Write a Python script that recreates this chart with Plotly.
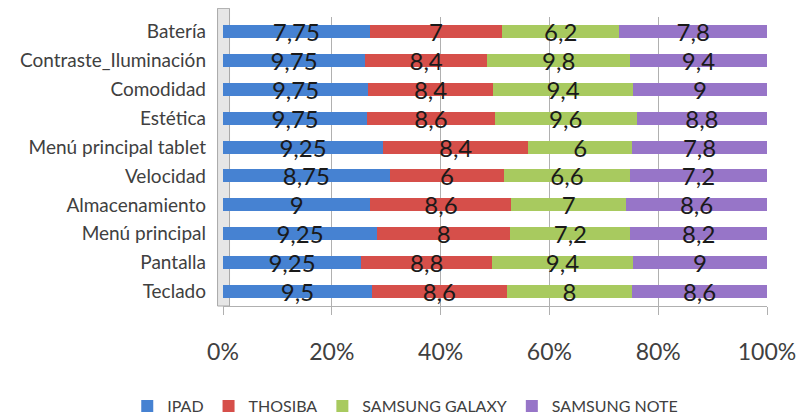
import plotly.graph_objects as go

categories = ["Teclado", "Pantalla", "Menú principal", "Almacenamiento", "Velocidad",
              "Menú principal tablet", "Estética", "Comodidad", "Contraste_Iluminación", "Batería"]
ipad = [9.5, 9.25, 9.25, 9, 8.75, 9.25, 9.75, 9.75, 9.75, 7.75]
thosiba = [8.6, 8.8, 8, 8.6, 6, 8.4, 8.6, 8.4, 8.4, 7]
galaxy = [8, 9.4, 7.2, 7, 6.6, 6, 9.6, 9.4, 9.8, 6.2]
note = [8.6, 9, 8.2, 8.6, 7.2, 7.8, 8.8, 9, 9.4, 7.8]
series_names = ["IPAD", "THOSIBA", "SAMSUNG GALAXY", "SAMSUNG NOTE"]
colors = ["#4682D2", "#D64F4A", "#A8CA5F", "#9775C8"]
tick_vals = [0, 20, 40, 60, 80, 100]
tick_text = ["0%", "20%", "40%", "60%", "80%", "100%"]

FONT = "Lato"
fig = go.Figure()
for name, vals, col in zip(series_names, [ipad, thosiba, galaxy, note], colors):
    fig.add_trace(go.Bar(
        y=categories, x=vals, name=name, orientation="h",
        marker=dict(color=col, line=dict(width=0)),
        text=[str(v).replace(".", ",") if v != int(v) else str(int(v)) for v in vals],
        textposition="inside", insidetextanchor="middle", constraintext="none",
        textangle=0,
        textfont=dict(family=FONT, size=24, color="#1a1a1a"),
        width=0.45, hoverinfo="skip",
    ))

fig.update_layout(
    barmode="stack", barnorm="percent",
    width=797, height=422,
    margin=dict(l=215, r=38, t=9, b=123),
    paper_bgcolor="white", plot_bgcolor="white",
    uniformtext=dict(minsize=24, mode="show"),
    font=dict(family=FONT, color="#404040"),
    legend=dict(orientation="h", x=-0.176, xanchor="left", y=-0.40, yanchor="bottom",
                font=dict(family=FONT, size=16, color="#404040"),
                traceorder="normal", itemwidth=30),
    xaxis=dict(range=[0, 100], tickvals=tick_vals, ticktext=tick_text, automargin=False,
               showgrid=True, gridcolor="#B0B0B0", gridwidth=1, zeroline=False,
               showline=True, linecolor="#B0B0B0", ticks="outside", ticklen=8,
               tickcolor="#B0B0B0", ticklabelstandoff=17,
               tickfont=dict(family=FONT, size=23, color="#404040")),
    yaxis=dict(categoryorder="array", categoryarray=categories, range=[-0.5, 9.5],
               automargin=False,
               showgrid=False, zeroline=False, showline=False,
               tickfont=dict(family=FONT, size=19, color="#404040"), ticklabelstandoff=16),
    shapes=[
        dict(type="rect", xref="x domain", yref="y domain", x0=-0.01, x1=0.012, y0=0, y1=1.03,
             fillcolor="#E6E6E6", line=dict(color="#A8A8A8", width=1), layer="below"),
    ],
)
fig.write_html("out.html")
